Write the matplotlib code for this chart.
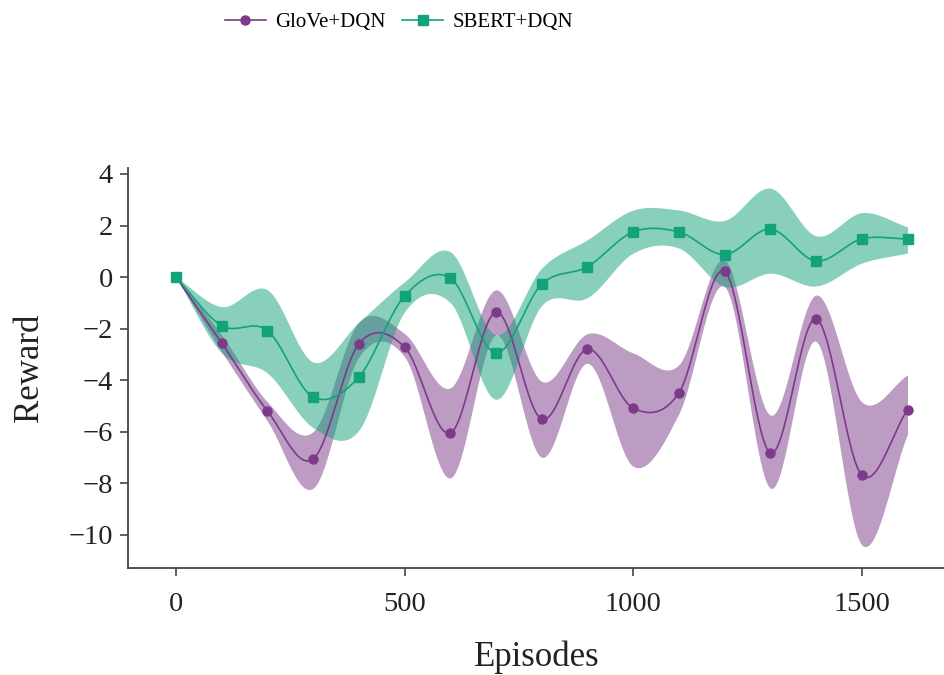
import numpy as np
import matplotlib
matplotlib.use("Agg")
import matplotlib.pyplot as plt

plt.rcParams['font.family'] = ['Liberation Serif', 'DejaVu Serif']

episodes = [0, 100, 200, 300, 400, 500, 600, 700, 800, 900, 1000, 1100, 1200, 1300, 1400, 1500, 1600]

glove_mean = [0.0, -2.56, -5.2, -7.07, -2.6, -2.72, -6.06, -1.36, -5.52, -2.8, -5.09, -4.5, 0.22, -6.83, -1.63, -7.69, -5.16]
glove_upper = [0.0, -2.25, -4.85, -6.0, -1.75, -2.2, -4.3, -0.5, -4.05, -2.2, -2.95, -3.4, 0.66, -5.36, -0.7, -4.85, -3.8]
glove_lower = [0.0, -2.9, -5.6, -8.2, -3.1, -3.1, -7.8, -2.25, -7.0, -3.35, -7.35, -5.3, -0.38, -8.2, -2.5, -10.4, -6.1]

sbert_mean = [0.0, -1.89, -2.08, -4.66, -3.88, -0.74, -0.04, -2.95, -0.28, 0.4, 1.75, 1.75, 0.87, 1.86, 0.62, 1.48, 1.48]
sbert_upper = [0.0, -1.15, -0.5, -3.3, -1.75, -0.18, 0.98, -2.25, 0.35, 1.45, 2.6, 2.6, 2.2, 3.45, 1.6, 2.5, 1.95]
sbert_lower = [0.0, -2.95, -3.73, -5.85, -5.95, -1.35, -1.0, -4.75, -1.1, -0.8, 0.93, 1.12, -0.37, 0.15, -0.35, 0.54, 0.93]

purple = '#7D3A8B'
green = '#13A37A'


def smooth(x, y, xs):
    # Catmull-Rom style cubic Hermite through the points
    x = np.asarray(x, float)
    y = np.asarray(y, float)
    d = np.gradient(y, x)
    idx = np.clip(np.searchsorted(x, xs, side='right') - 1, 0, len(x) - 2)
    h = x[idx + 1] - x[idx]
    t = (xs - x[idx]) / h
    h00 = 2 * t**3 - 3 * t**2 + 1
    h10 = t**3 - 2 * t**2 + t
    h01 = -2 * t**3 + 3 * t**2
    h11 = t**3 - t**2
    return h00 * y[idx] + h10 * h * d[idx] + h01 * y[idx + 1] + h11 * h * d[idx + 1]


xs = np.linspace(episodes[0], episodes[-1], 800)

fig = plt.figure(figsize=(9.45, 6.75), dpi=100)
ax = fig.add_axes([0.1354, 0.1585, 0.8646, 0.5925])

for mean, up, lo, c, m, lab in [
        (glove_mean, glove_upper, glove_lower, purple, 'o', 'GloVe+DQN'),
        (sbert_mean, sbert_upper, sbert_lower, green, 's', 'SBERT+DQN')]:
    ax.fill_between(xs, smooth(episodes, lo, xs), smooth(episodes, up, xs),
                    color=c, alpha=0.5, linewidth=0)
    ax.plot(xs, smooth(episodes, mean, xs), color=c, linewidth=1.2)
    ax.plot(episodes, mean, linestyle='none', marker=m, color=c, markersize=6.5)
    ax.plot([], [], color=c, marker=m, markersize=6.5, linewidth=1.2, label=lab)

ax.set_xlim(-105, 1682)
ax.set_ylim(-11.3, 4.23)
ax.set_xticks([0, 500, 1000, 1500])
ax.set_yticks([4, 2, 0, -2, -4, -6, -8, -10])
ax.set_yticklabels(['4', '2', '0', '\u22122', '\u22124', '\u22126', '\u22128', '\u221210'])

for side in ['top', 'right']:
    ax.spines[side].set_visible(False)
for side in ['left', 'bottom']:
    ax.spines[side].set_color('#444444')
    ax.spines[side].set_linewidth(1.3)
ax.tick_params(direction='out', length=6, width=1.2, color='#444444',
               labelsize=20.5, labelcolor='#222222')
ax.tick_params(axis='x', pad=11)
ax.tick_params(axis='y', pad=5)

ax.set_xlabel('Episodes', fontsize=25, color='#222222', labelpad=17)
ax.set_ylabel('Reward', fontsize=25, color='#222222', labelpad=16)

fig.legend(loc='upper center', bbox_to_anchor=(399 / 945, 1 + 6 / 675), ncol=2,
           frameon=False, fontsize=15, handlelength=2.0, columnspacing=0.75,
           handletextpad=0.45)

fig.savefig('out.png', dpi=100)
